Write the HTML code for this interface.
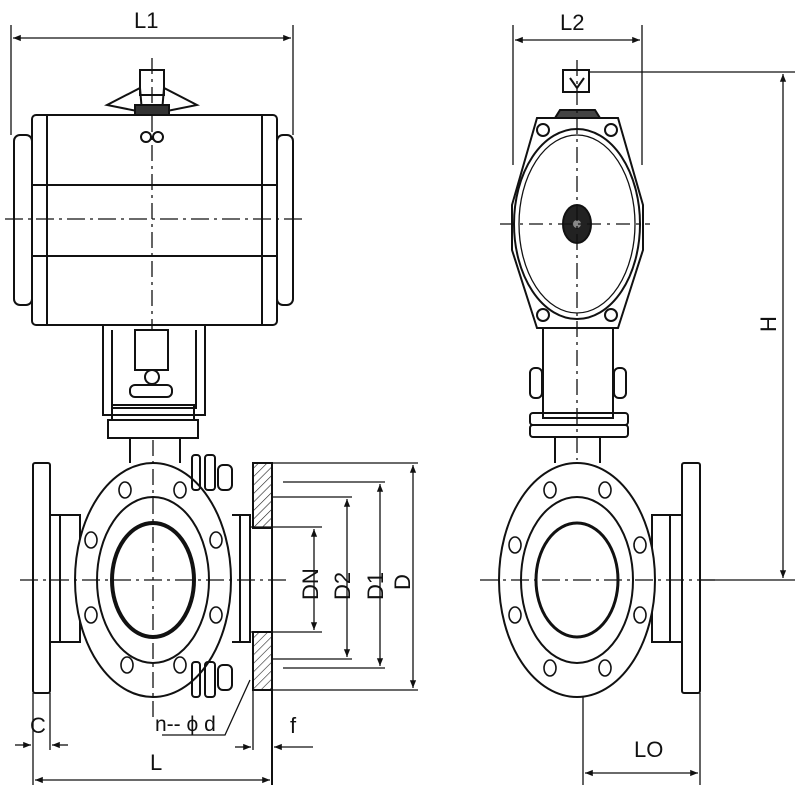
<!DOCTYPE html>
<html><head><style>body{margin:0;background:#fff}svg{display:block}text{font-family:"Liberation Sans",sans-serif;fill:#111}</style></head>
<body>
<svg width="800" height="800" viewBox="0 0 800 800" xmlns="http://www.w3.org/2000/svg">
<defs>
<marker id="a" viewBox="0 0 10 10" refX="10" refY="5" markerWidth="8" markerHeight="6" orient="auto-start-reverse"><path d="M0,1 L10,5 L0,9 z" fill="#111"/></marker>
<pattern id="h" width="6" height="6" patternUnits="userSpaceOnUse" patternTransform="rotate(45)"><line x1="0" y1="0" x2="0" y2="6" stroke="#222" stroke-width="1.2"/></pattern>
</defs>
<g stroke="#111" stroke-width="2" fill="none">
<!-- L1 -->
<line x1="11" y1="25" x2="11" y2="135" stroke-width="1.3"/>
<line x1="293" y1="25" x2="293" y2="135" stroke-width="1.3"/>
<line x1="13" y1="38" x2="291" y2="38" stroke-width="1.3" marker-start="url(#a)" marker-end="url(#a)"/>
<!-- actuator -->
<rect x="32" y="115" width="245" height="210" rx="4"/>
<line x1="47" y1="116" x2="47" y2="324"/>
<line x1="262" y1="116" x2="262" y2="324"/>
<rect x="14" y="135" width="18" height="170" rx="6"/>
<rect x="277" y="135" width="16" height="170" rx="6"/>
<line x1="32" y1="185" x2="277" y2="185"/>
<line x1="32" y1="256" x2="277" y2="256"/>
<line x1="5" y1="219" x2="305" y2="219" stroke-width="1.3" stroke-dasharray="18,5,3,5"/>
<line x1="152" y1="58" x2="152" y2="330" stroke-width="1.3" stroke-dasharray="16,5,3,5"/>
<!-- top indicator -->
<rect x="140" y="70" width="24" height="25"/>
<path d="M107,105 L140,88 L142,112 Z M197,105 L164,88 L162,112 Z"/>
<rect x="135" y="105" width="34" height="10" fill="#333"/>
<circle cx="146" cy="137" r="5"/><circle cx="158" cy="137" r="5"/>
<!-- bracket -->
<path d="M103,325 L103,415 L205,415 L205,325"/>
<path d="M112,330 L112,408 L196,408 L196,330"/>
<rect x="135" y="330" width="33" height="40"/>
<rect x="130" y="385" width="42" height="12" rx="5"/>
<circle cx="152" cy="377" r="7"/>
<rect x="112" y="405" width="82" height="15"/>
<rect x="108" y="420" width="90" height="18"/>
<line x1="130" y1="438" x2="130" y2="463"/>
<line x1="180" y1="438" x2="180" y2="463"/>
<!-- left valve -->
<rect x="33" y="463" width="17" height="230" rx="2"/>
<rect x="50" y="515" width="30" height="127"/>
<line x1="60" y1="515" x2="60" y2="642"/>
<ellipse cx="153" cy="580" rx="78" ry="117" fill="#fff"/>
<ellipse cx="153" cy="580" rx="56" ry="83"/>
<ellipse cx="153" cy="580" rx="41" ry="57" stroke-width="4"/>
<g stroke-width="1.6">
<ellipse cx="125" cy="490" rx="6" ry="8"/><ellipse cx="180" cy="490" rx="6" ry="8"/>
<ellipse cx="91" cy="540" rx="6" ry="8"/><ellipse cx="216" cy="540" rx="6" ry="8"/>
<ellipse cx="91" cy="615" rx="6" ry="8"/><ellipse cx="216" cy="615" rx="6" ry="8"/>
<ellipse cx="127" cy="665" rx="6" ry="8"/><ellipse cx="180" cy="665" rx="6" ry="8"/>
</g>
<!-- bolts -->
<rect x="192" y="455" width="8" height="35" rx="3"/><rect x="205" y="455" width="10" height="35" rx="3"/><rect x="218" y="465" width="14" height="25" rx="5"/>
<rect x="192" y="662" width="8" height="35" rx="3"/><rect x="205" y="662" width="10" height="35" rx="3"/><rect x="218" y="665" width="14" height="25" rx="5"/>
<path d="M232,515 L250,515 L250,642 L232,642"/>
<line x1="240" y1="515" x2="240" y2="642"/>
<!-- hatched flange -->
<rect x="253" y="463" width="19" height="65" fill="url(#h)"/>
<rect x="253" y="632" width="19" height="58" fill="url(#h)"/>
<line x1="272" y1="463" x2="272" y2="785"/>
<line x1="253" y1="470" x2="253" y2="528"/>
<line x1="253" y1="632" x2="253" y2="690"/>
<line x1="20" y1="580" x2="290" y2="580" stroke-width="1.3" stroke-dasharray="18,5,3,5"/>
<line x1="153" y1="440" x2="153" y2="720" stroke-width="1.3" stroke-dasharray="16,5,3,5"/>
<!-- dims D -->
<g stroke-width="1.3">
<line x1="272" y1="463" x2="418" y2="463"/><line x1="272" y1="690" x2="418" y2="690"/>
<line x1="283" y1="482" x2="385" y2="482"/><line x1="283" y1="668" x2="385" y2="668"/>
<line x1="272" y1="497" x2="352" y2="497"/><line x1="272" y1="659" x2="352" y2="659"/>
<line x1="250" y1="527" x2="322" y2="527"/><line x1="250" y1="632" x2="322" y2="632"/>
<line x1="413" y1="465" x2="413" y2="688" marker-start="url(#a)" marker-end="url(#a)"/>
<line x1="380" y1="484" x2="380" y2="666" marker-start="url(#a)" marker-end="url(#a)"/>
<line x1="347" y1="499" x2="347" y2="657" marker-start="url(#a)" marker-end="url(#a)"/>
<line x1="314" y1="529" x2="314" y2="630" marker-start="url(#a)" marker-end="url(#a)"/>
<!-- bottom dims -->
<line x1="33" y1="693" x2="33" y2="785"/><line x1="50" y1="693" x2="50" y2="750"/>
<line x1="15" y1="745" x2="31" y2="745" marker-end="url(#a)"/><line x1="68" y1="745" x2="52" y2="745" marker-end="url(#a)"/>
<line x1="35" y1="780" x2="270" y2="780" marker-start="url(#a)" marker-end="url(#a)"/>
<line x1="253" y1="690" x2="253" y2="750"/>
<line x1="235" y1="747" x2="251" y2="747" marker-end="url(#a)"/><line x1="313" y1="747" x2="274" y2="747" marker-end="url(#a)"/>
<path d="M162,735 L225,735 L250,680"/>
</g>
<!-- right view -->
<g stroke-width="1.3">
<line x1="513" y1="25" x2="513" y2="165"/><line x1="642" y1="25" x2="642" y2="165"/>
<line x1="515" y1="40" x2="640" y2="40" marker-start="url(#a)" marker-end="url(#a)"/>
<line x1="590" y1="72" x2="795" y2="72"/><line x1="700" y1="580" x2="795" y2="580"/>
<line x1="783" y1="74" x2="783" y2="578" marker-start="url(#a)" marker-end="url(#a)"/>
<line x1="583" y1="690" x2="583" y2="785"/><line x1="700" y1="693" x2="700" y2="785"/>
<line x1="585" y1="773" x2="698" y2="773" marker-start="url(#a)" marker-end="url(#a)"/>
</g>
<rect x="563" y="70" width="26" height="22"/>
<path d="M570,78 L577,88 L584,78"/>
<path d="M560,110 L595,110 L600,118 L555,118 Z" fill="#444"/>
<path d="M537,118 L618,118 L643,205 L643,250 L618,328 L537,328 L512,250 L512,205 Z"/>
<ellipse cx="577" cy="224" rx="63" ry="95"/>
<ellipse cx="577" cy="224" rx="58" ry="89" stroke-width="1.3"/>
<circle cx="543" cy="130" r="6"/><circle cx="611" cy="130" r="6"/>
<circle cx="543" cy="315" r="6"/><circle cx="611" cy="315" r="6"/>
<ellipse cx="577" cy="224" rx="14" ry="19" fill="#222"/>
<circle cx="577" cy="224" r="4" fill="#888" stroke="none"/>
<line x1="500" y1="224" x2="650" y2="224" stroke-width="1.3" stroke-dasharray="14,6,3,6"/>
<line x1="577" y1="60" x2="577" y2="460" stroke-width="1.3" stroke-dasharray="16,5,3,5"/>
<rect x="543" y="328" width="70" height="90"/>
<rect x="530" y="368" width="12" height="30" rx="5"/><rect x="614" y="368" width="12" height="30" rx="5"/>
<rect x="530" y="413" width="98" height="12" rx="3"/>
<rect x="530" y="425" width="98" height="12" rx="3"/>
<line x1="555" y1="437" x2="555" y2="463"/><line x1="600" y1="437" x2="600" y2="463"/>
<rect x="682" y="463" width="18" height="230" rx="2"/>
<rect x="652" y="515" width="30" height="127"/>
<line x1="670" y1="515" x2="670" y2="642"/>
<ellipse cx="577" cy="580" rx="78" ry="117" fill="#fff"/>
<ellipse cx="577" cy="580" rx="56" ry="83"/>
<ellipse cx="577" cy="580" rx="41" ry="57" stroke-width="3"/>
<g stroke-width="1.6">
<ellipse cx="550" cy="490" rx="6" ry="8"/><ellipse cx="605" cy="490" rx="6" ry="8"/>
<ellipse cx="515" cy="545" rx="6" ry="8"/><ellipse cx="640" cy="545" rx="6" ry="8"/>
<ellipse cx="515" cy="615" rx="6" ry="8"/><ellipse cx="640" cy="615" rx="6" ry="8"/>
<ellipse cx="550" cy="668" rx="6" ry="8"/><ellipse cx="605" cy="668" rx="6" ry="8"/>
</g>
<line x1="480" y1="580" x2="720" y2="580" stroke-width="1.3" stroke-dasharray="18,5,3,5"/>
</g>
<g font-size="22">
<text x="134" y="28">L1</text>
<text x="560" y="30">L2</text>
<text x="150" y="770">L</text>
<text x="30" y="733">C</text>
<text x="290" y="733">f</text>
<text x="155" y="731" font-size="21">n-- ϕ d</text>
<text x="634" y="757">LO</text>
<text transform="translate(776,332) rotate(-90)">H</text>
<text transform="translate(318,600) rotate(-90)">DN</text>
<text transform="translate(350,600) rotate(-90)">D2</text>
<text transform="translate(383,600) rotate(-90)">D1</text>
<text transform="translate(410,590) rotate(-90)">D</text>
</g>
</svg>
</body></html>
